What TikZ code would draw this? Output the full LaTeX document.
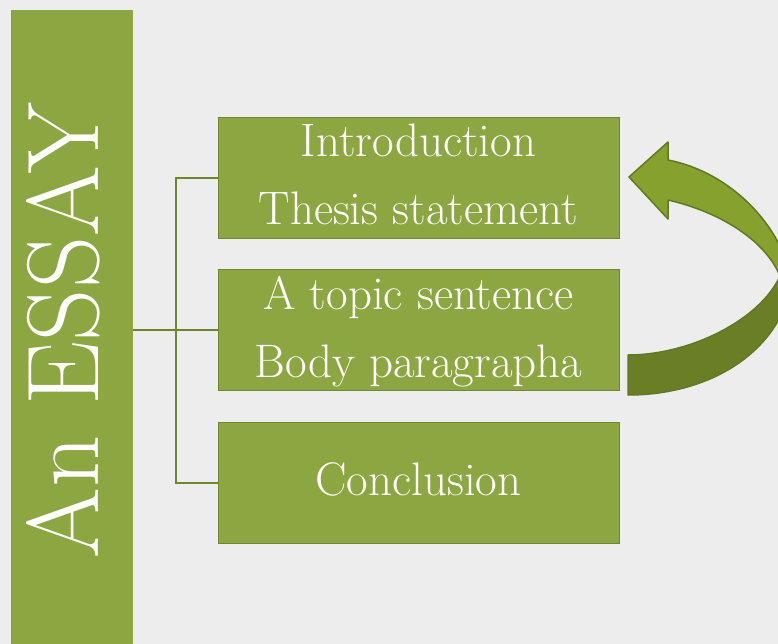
\documentclass[tikz,border=0pt]{standalone}
\usetikzlibrary{positioning}
\definecolor{bgc}{HTML}{EDEDED}
\definecolor{boxgreen}{HTML}{8CA741}
\definecolor{boxedge}{HTML}{6F872E}
\definecolor{arrlight}{HTML}{87A12E}
\definecolor{arrdark}{HTML}{6A7F25}
\definecolor{arredge}{HTML}{627822}
\definecolor{linec}{HTML}{6E862C}
\tikzset{
  greenbox/.style={draw=boxedge, line width=1pt, fill=boxgreen, rectangle, inner sep=0pt,
    minimum width=401pt, minimum height=121pt},
  boxtext/.style={anchor=base, text=white, inner sep=0pt, font=\fontsize{47}{52}\selectfont},
  connector/.style={draw=linec, line width=2pt},
  arrowband/.style={draw=arredge, line width=1.5pt, line join=round}
}
\begin{document}
\begin{tikzpicture}[x=1pt, y=-1pt]
\fill[bgc] (0,0) rectangle (778,644);
\useasboundingbox (0,0) rectangle (778,644);

% left bar
\node[fill=boxgreen, rectangle, inner sep=0pt, minimum width=122pt, minimum height=634pt, anchor=north west] (bar) at (11,10) {};
\draw[black!45, line width=1pt] (11,10) -- (11,644);
\node[rotate=90, anchor=base, text=white, inner sep=0pt, font=\fontsize{102}{110}\selectfont] (essay) at (98,331) {An ESSAY};

% boxes
\node[greenbox] (b1) at (418.5,178) {};
\node[greenbox] (b2) at (418.5,330) {};
\node[greenbox] (b3) at (418.5,482.5) {};

\node[boxtext] (t1a) at (418.5,157) {Introduction};
\node[boxtext] (t1b) at (418.5,225) {Thesis statement};
\node[boxtext] (t2a) at (418.5,309) {A topic sentence};
\node[boxtext] (t2b) at (418.5,377) {Body paragrapha};
\node[boxtext] (t3) at (418.5,495) {Conclusion};

% connectors
\coordinate (j) at (176,330);
\draw[connector] (bar.east |- j) -- (j);
\draw[connector] (j) -- (b2.west);
\draw[connector] (b1.west) -| (j);
\draw[connector] (b3.west) -| (j);

% curved arrow
\begin{scope}
\clip (0,0) rectangle (778,644);
\path[arrowband, fill=arrdark] (628,355) -- (628,395)
  .. controls (710,395) and (780,352) .. (792,282)
  -- (780,276)
  .. controls (760,320) and (690,355) .. (628,355) -- cycle;
\path[arrowband, fill=arrlight] (629,177) -- (668,142) -- (668,160)
  .. controls (730,172) and (782,225) .. (792,282)
  -- (780,276)
  .. controls (765,240) and (720,212) .. (668,200)
  -- (668,219) -- cycle;
\end{scope}
\end{tikzpicture}
\end{document}
